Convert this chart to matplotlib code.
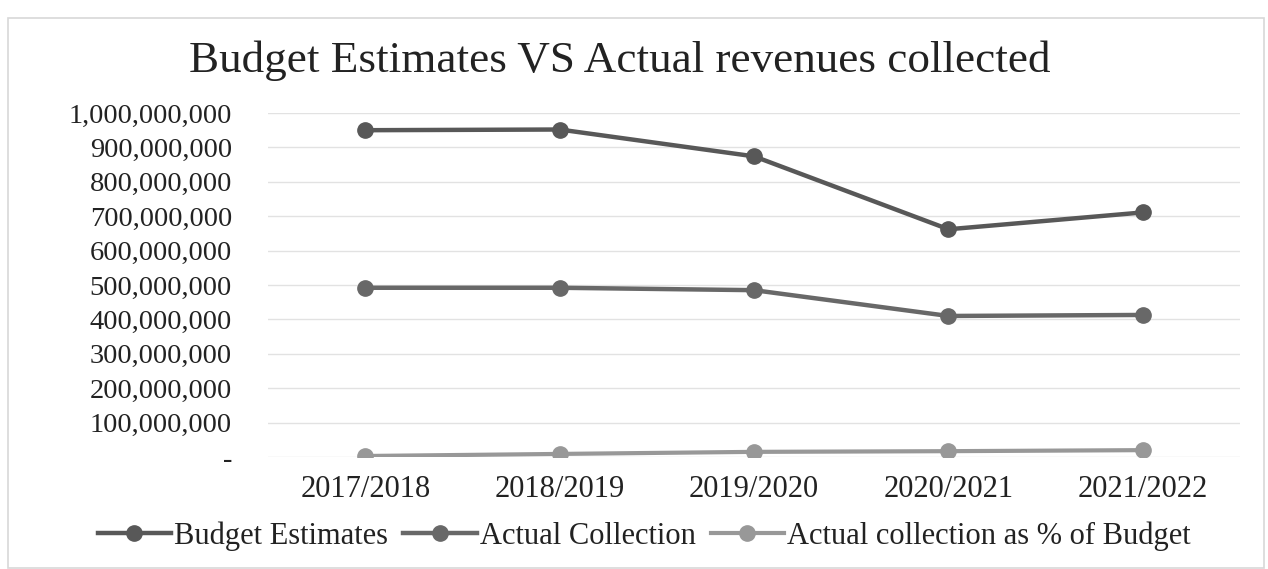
"""
Budget estimates vs actual revenues collected - line chart
"""

import matplotlib
matplotlib.use('Agg')
import matplotlib.pyplot as plt
from matplotlib.ticker import FuncFormatter
from matplotlib.patches import Rectangle

# data
years = ['2017/2018', '2018/2019', '2019/2020', '2020/2021', '2021/2022']
budget = [950e6, 952e6, 874e6, 662e6, 711e6]
actual = [492e6, 492e6, 485e6, 410e6, 413e6]
pct_of_budget = [3e6, 9e6, 15e6, 17e6, 20e6]
yticks = [0, 100e6, 200e6, 300e6, 400e6, 500e6, 600e6, 700e6, 800e6, 900e6, 1000e6]

plt.rcParams['font.family'] = ['Liberation Serif', 'DejaVu Serif']
txt = '#222222'

fig = plt.figure(figsize=(12.68, 5.69), dpi=100)
ax = fig.add_axes([0.2114, 0.1968, 0.7666, 0.6046])

# faint outer frame like the scanned chart box
fig.patches.append(Rectangle((0.0063, 0.002), 0.9905, 0.9666, transform=fig.transFigure,
                             fill=False, edgecolor='#d8d8d8', linewidth=1.2))

x = range(len(years))
ax.plot(x, budget, color='#585858', lw=3.2, marker='o', ms=11, label='Budget Estimates', zorder=3)
ax.plot(x, actual, color='#686868', lw=3.2, marker='o', ms=11, label='Actual Collection', zorder=3)
ax.plot(x, pct_of_budget, color='#989898', lw=3, marker='o', ms=11,
        label='Actual collection as % of Budget', zorder=3)

ax.set_xlim(-0.5, len(years) - 0.5)
ax.set_ylim(0, 1000e6)
ax.set_yticks(yticks)
ax.yaxis.set_major_formatter(FuncFormatter(lambda v, p: '-' if v == 0 else '{:,.0f}'.format(v)))
ax.set_xticks(list(x))
ax.set_xticklabels(years)
ax.grid(axis='y', color='#e2e2e2', lw=1)
ax.set_axisbelow(True)
for s in ax.spines.values():
    s.set_visible(False)
ax.tick_params(axis='y', length=0, pad=26, labelsize=20.5, labelcolor=txt)
ax.tick_params(axis='x', length=0, pad=13, labelsize=22, labelcolor=txt)

fig.text(0.489, 0.893, 'Budget Estimates VS Actual revenues collected', ha='center', va='center',
         fontsize=32.5, color=txt)

fig.legend(loc='center', bbox_to_anchor=(0.508, 0.058), ncol=3, frameon=False, fontsize=22,
           handlelength=2.4, handletextpad=0.1, columnspacing=0.5, labelcolor=txt)

fig.savefig('out.png', dpi=100)
